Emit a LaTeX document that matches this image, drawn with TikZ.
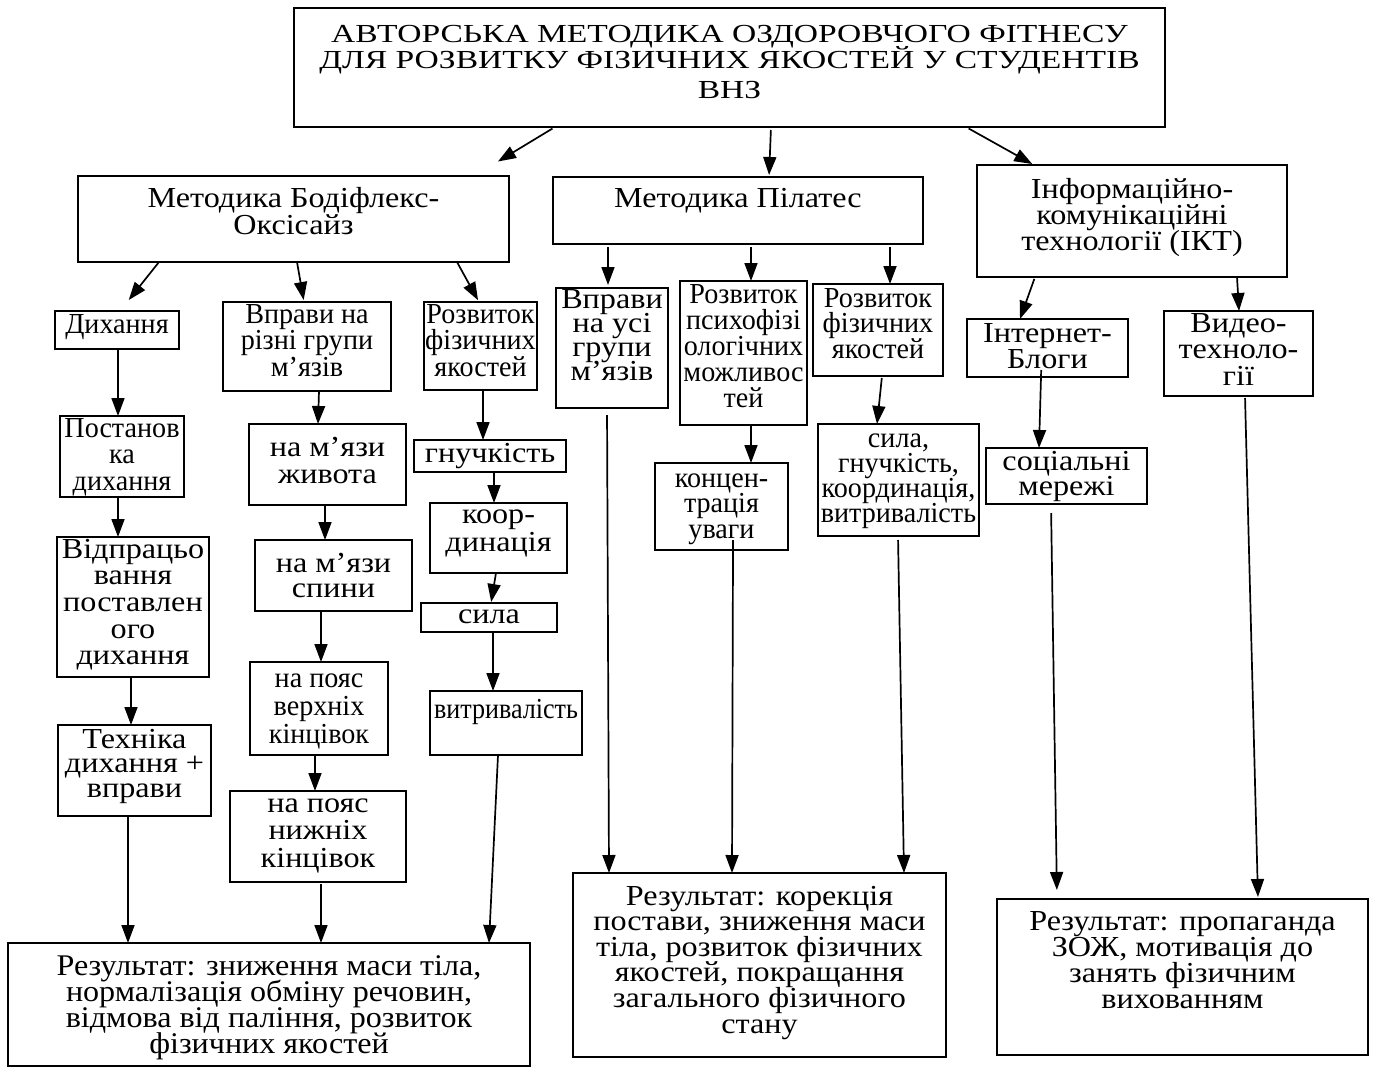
\documentclass[tikz,border=0pt]{standalone}
\usepackage{fontspec}
\setmainfont{Liberation Serif}
\newfontfamily\fW[FakeStretch=1.11]{Liberation Serif}
\newfontfamily\fX[FakeStretch=1.29]{Liberation Serif}
\newfontfamily\fR[FakeStretch=1.07]{Liberation Serif}
\newfontfamily\fN[FakeStretch=0.97]{Liberation Serif}
\newfontfamily\fT[FakeStretch=0.9]{Liberation Serif}
\usetikzlibrary{arrows.meta}
\newcommand\Lr[1]{\hbox to \hsize{\hss#1\hss}}
\newcommand\fsz[2]{\fontsize{#1}{#2}\selectfont}
\newcommand\bx[8][]{%
 \node[bx] (#2) at (#3,#4) {\vbox to \dimexpr#6pt-#4pt\relax{\hsize=\dimexpr#5pt-#3pt\relax\fsz{29}{26}\fW#1\lineskiplimit=-\maxdimen\kern\dimexpr#7pt-\baselineskip\relax\prevdepth=0pt #8\vss}};}
\newcommand\ar[5][]{\coordinate (ta) at (#3,0); \coordinate (tb) at (#5,0); \draw[arr,#1] (#2.south -| ta) -- (#4.north -| tb);}
\begin{document}
\begin{tikzpicture}[x=1pt,y=-1pt,
  bx/.style={draw,line width=1.8pt,inner sep=0pt,outer sep=0pt,anchor=north west},
  arr/.style={line width=1.7pt,-{Triangle[length=18pt,width=13pt]}}]
\useasboundingbox (0,0) rectangle (1375,1068);
% level 0
\bx[\fsz{26}{26}\fX]{top}{294}{8}{1165}{127}{34}{\Lr{АВТОРСЬКА МЕТОДИКА ОЗДОРОВЧОГО ФІТНЕСУ}\Lr{ДЛЯ РОЗВИТКУ ФІЗИЧНИХ ЯКОСТЕЙ У СТУДЕНТІВ}\kern4pt\Lr{ВНЗ}}
% level 1
\bx[\fsz{29}{27}]{bod}{78}{176}{509}{262}{31}{\Lr{Методика Бодіфлекс-}\Lr{Оксісайз}}
\bx{pil}{553}{177}{923}{244}{30}{\Lr{Методика Пілатес}}
\bx{ikt}{977}{165}{1287}{277}{33}{\Lr{Інформаційно-}\Lr{комунікаційні}\Lr{технології (ІКТ)}}
% level 2
\bx[\fN]{dyh}{55}{311}{179}{349}{22}{\Lr{Дихання}}
\bx[\fsz{29}{26.5}\fN]{vpr}{223}{302}{391}{391}{21}{\Lr{Вправи на}\Lr{різні групи}\Lr{м’язів}}
\bx[\fsz{29}{26.5}\fN]{rozvA}{424}{302}{537}{390}{21}{\Lr{Розвиток}\Lr{фізичних}\Lr{якостей}}
\bx[\fsz{29}{24}]{vprB}{556}{288}{668}{408}{20}{\Lr{Вправи}\Lr{на усі}\Lr{групи}\Lr{м’язів}}
\bx[\fN]{psy}{680}{281}{807}{425}{22}{\Lr{Розвиток}\Lr{психофізі}\Lr{ологічних}\Lr{можливос}\Lr{тей}}
\bx[\fsz{29}{25.5}\fN]{rozvB}{813}{284}{943}{376}{23}{\Lr{Розвиток}\Lr{фізичних}\Lr{якостей}}
\bx{inet}{967}{319}{1128}{377}{23}{\Lr{Інтернет-}\Lr{Блоги}}
\bx[\fsz{29}{26.5}]{video}{1164}{311}{1313}{396}{21}{\Lr{Видео-}\Lr{техноло-}\Lr{гії}}
% column 1
\bx[\fsz{29}{26.5}\fN]{post}{60}{416}{184}{497}{21}{\Lr{Постанов}\Lr{ка}\Lr{дихання}}
\bx[\fsz{29}{26.7}]{vidp}{57}{537}{209}{677}{21}{\Lr{Відпрацьо}\Lr{вання}\Lr{поставлен}\Lr{ого}\Lr{дихання}}
\bx[\fsz{29}{24.5}]{tekh}{58}{725}{211}{816}{23}{\Lr{Техніка}\Lr{дихання +}\Lr{вправи}}
% column 2
\bx[\fsz{29}{27}]{zhyv}{249}{424}{406}{505}{32}{\Lr{на м’язи}\Lr{живота}}
\bx[\fsz{29}{25}]{spyn}{255}{540}{412}{611}{32}{\Lr{на м’язи}\Lr{спини}}
\bx[\fsz{29}{28}\fN]{verkh}{250}{662}{388}{755}{25}{\Lr{на пояс}\Lr{верхніх}\Lr{кінцівок}}
\bx[\fsz{29}{27.5}]{nyzh}{230}{791}{406}{882}{21}{\Lr{на пояс}\Lr{нижніх}\Lr{кінцівок}}
% column 3
\bx{gnuch}{414}{440}{566}{472}{22}{\Lr{гнучкість}}
\bx[\fsz{29}{28}]{koord}{430}{503}{567}{573}{20}{\Lr{коор-}\Lr{динація}}
\bx{syla}{421}{603}{557}{632}{20}{\Lr{сила}}
\bx[\fT]{vytr}{430}{691}{582}{755}{27}{\Lr{витривалість}}
% pilates
\bx[\fsz{29}{25.5}\fN]{konc}{655}{463}{788}{550}{24}{\Lr{концен-}\Lr{трація}\Lr{уваги}}
\bx[\fsz{29}{25.3}\fN]{sgkv}{818}{424}{979}{536}{23}{\Lr{сила,}\Lr{гнучкість,}\Lr{координація,}\Lr{витривалість}}
% ict
\bx[\fsz{29}{25}]{soc}{986}{448}{1147}{504}{22}{\Lr{соціальні}\Lr{мережі}}
% results
\bx[\fsz{30}{26}\fR]{resA}{8}{943}{530}{1066}{32}{\Lr{Результат: зниження маси тіла,}\Lr{нормалізація обміну речовин,}\Lr{відмова від паління, розвиток}\Lr{фізичних якостей}}
\bx[\fsz{29}{25.6}]{resB}{573}{873}{946}{1057}{32}{\Lr{Результат: корекція}\Lr{постави, зниження маси}\Lr{тіла, розвиток фізичних}\Lr{якостей, покращання}\Lr{загального фізичного}\Lr{стану}}
\bx[\fsz{29}{26}]{resC}{997}{899}{1368}{1055}{31}{\Lr{Результат: пропаганда}\Lr{ЗОЖ, мотивація до}\Lr{занять фізичним}\Lr{вихованням}}
% arrows from top
\ar[shorten <=3pt,shorten >=28pt]{top}{555}{bod}{474}
\ar[shorten <=3pt,shorten >=2pt]{top}{771}{pil}{769}
\ar[shorten <=3pt,shorten >=2pt]{top}{966}{ikt}{1034}
% Bodyflex
\ar[shorten <=1pt,shorten >=14pt]{bod}{159}{dyh}{120}
\ar[shorten <=1pt,shorten >=2pt]{bod}{297}{vpr}{304}
\ar[shorten <=1pt,shorten >=2pt]{bod}{457}{rozvA}{479}
% Pilates
\ar[shorten <=3pt,shorten >=3pt]{pil}{608}{vprB}{608}
\ar[shorten <=3pt]{pil}{751}{psy}{751}
\ar[shorten <=3pt]{pil}{890}{rozvB}{890}
% ICT
\ar[shorten <=2pt]{ikt}{1035}{inet}{1020}
\ar[shorten <=1pt]{ikt}{1237}{video}{1239}
% column 1
\ar{dyh}{118}{post}{118}
\ar{post}{118}{vidp}{118}
\ar{vidp}{131}{tekh}{131}
\ar{tekh}{128}{resA}{128}
% column 2
\ar{vpr}{319}{zhyv}{318}
\ar{zhyv}{325}{spyn}{325}
\ar{spyn}{321}{verkh}{321}
\ar{verkh}{315}{nyzh}{315}
\ar[shorten <=2pt]{nyzh}{321}{resA}{321}
% column 3
\ar{rozvA}{483}{gnuch}{483}
\ar{gnuch}{494}{koord}{494}
\ar[shorten >=1pt]{koord}{496}{syla}{491}
\ar{syla}{493}{vytr}{493}
\ar{vytr}{498}{resA}{489}
% pilates columns
\ar[shorten <=7pt]{vprB}{607}{resB}{609}
\ar{psy}{751}{konc}{751}
\ar[shorten <=-10pt]{konc}{733}{resB}{732}
\ar[shorten <=2pt]{rozvB}{882}{sgkv}{877}
\ar[shorten <=4pt]{sgkv}{898}{resB}{904}
% ict columns
\ar[shorten <=-7pt]{inet}{1041}{soc}{1039}
\ar[shorten <=9pt,shorten >=9pt]{soc}{1051}{resC}{1057}
\ar[shorten <=2pt,shorten >=2pt]{video}{1245}{resC}{1258}
\end{tikzpicture}
\end{document}
